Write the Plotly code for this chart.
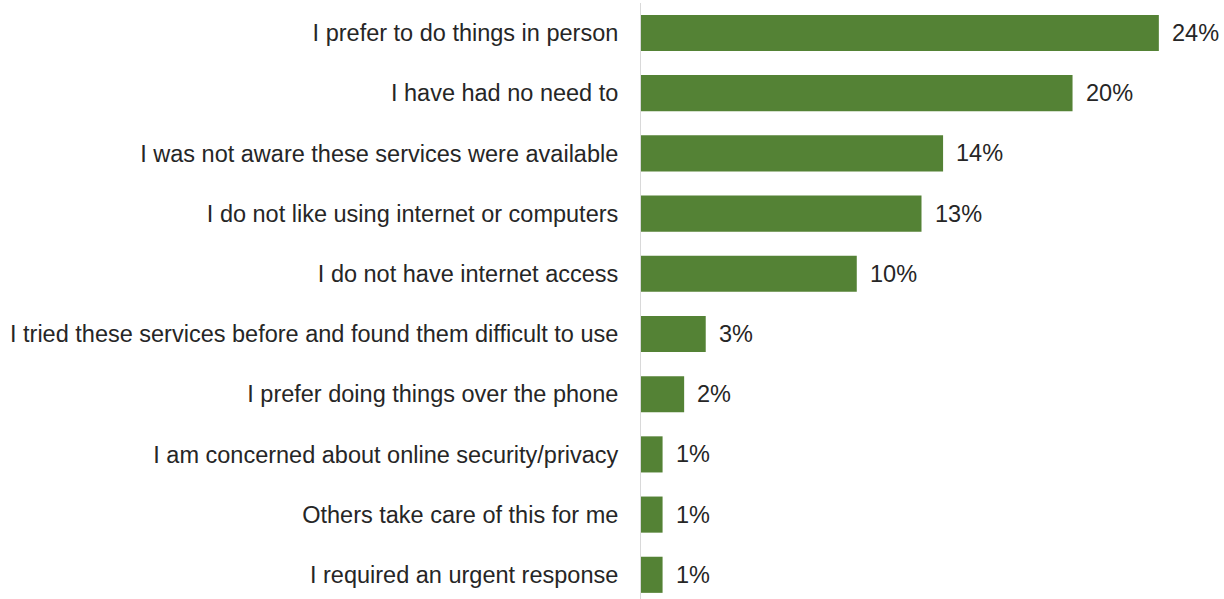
import plotly.graph_objects as go

# Reasons given for not using online services (% of respondents)
reasons = [
    "I prefer to do things in person",
    "I have had no need to",
    "I was not aware these services were available",
    "I do not like using internet or computers",
    "I do not have internet access",
    "I tried these services before and found them difficult to use",
    "I prefer doing things over the phone",
    "I am concerned about online security/privacy",
    "Others take care of this for me",
    "I required an urgent response",
]
percentages = [24, 20, 14, 13, 10, 3, 2, 1, 1, 1]

BAR_COLOR = "#548235"
TEXT_COLOR = "#262626"
FONT = "Liberation Sans, Arial, sans-serif"
FONT_SIZE = 23.5

fig = go.Figure(
    go.Bar(
        x=percentages,
        y=reasons,
        orientation="h",
        marker=dict(color=BAR_COLOR, line=dict(width=0)),
        hoverinfo="skip",
    )
)

# Value labels just to the right of each bar end
for reason, value in zip(reasons, percentages):
    fig.add_annotation(
        x=value,
        y=reason,
        text=f"{value}%",
        showarrow=False,
        xanchor="left",
        yanchor="middle",
        xshift=11,
        font=dict(size=FONT_SIZE, color=TEXT_COLOR, family=FONT),
    )

fig.update_layout(
    width=1224,
    height=599,
    margin=dict(l=641, r=22, t=3, b=0),
    paper_bgcolor="white",
    plot_bgcolor="white",
    bargap=0.4,
    showlegend=False,
    font=dict(family=FONT, size=FONT_SIZE, color=TEXT_COLOR),
)

fig.update_xaxes(
    range=[0, 26],
    showticklabels=False,
    showgrid=False,
    zeroline=False,
    showline=False,
)

fig.update_yaxes(
    categoryorder="array",
    categoryarray=reasons,
    range=[9.402, -0.498],
    showline=True,
    linecolor="#d9d9d9",
    linewidth=1,
    showgrid=False,
    ticks="",
    ticklabelstandoff=17,
    tickfont=dict(size=FONT_SIZE, color=TEXT_COLOR, family=FONT),
)

fig.write_html("out.html")
